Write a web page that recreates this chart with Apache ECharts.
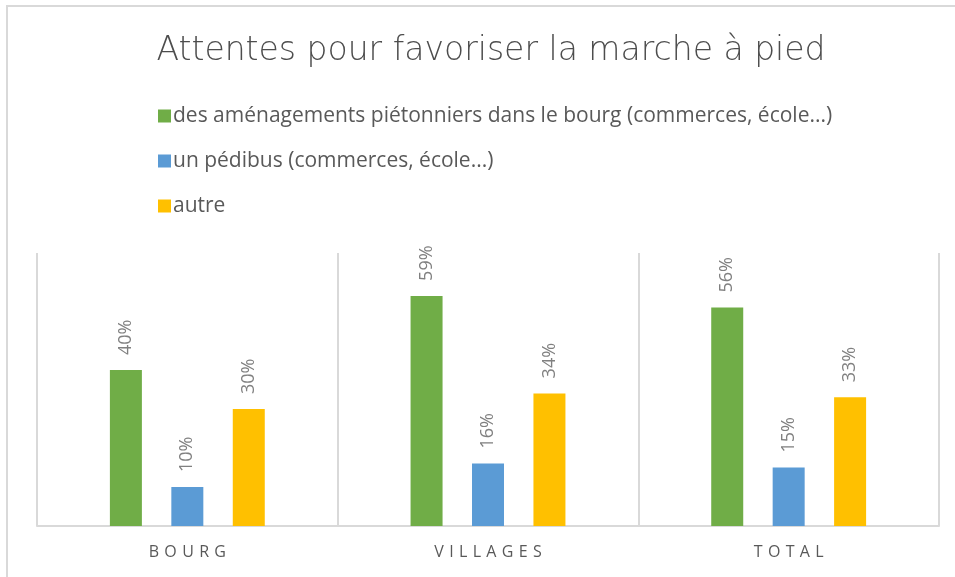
<!DOCTYPE html>
<html lang="fr">
<head>
<meta charset="utf-8">
<title>Attentes pour favoriser la marche à pied</title>
<script src="https://cdn.jsdelivr.net/npm/echarts@6/dist/echarts.min.js"></script>
<style>
    html, body { margin: 0; padding: 0; background: #fff; }
    #bar_walk { width: 955px; height: 577px; }
</style>
</head>
<body>
<div id="bar_walk"></div>
<script>

// Data
// ------------------------------

var categories = ['BOURG', 'VILLAGES', 'TOTAL'];
var seriesNames = [
    'des aménagements piétonniers dans le bourg (commerces, école...)',
    'un pédibus (commerces, école...)',
    'autre'
];
var amenagements = [40, 59, 56];
var pedibus = [10, 16, 15];
var autre = [30, 34, 33];
var seriesColors = ['#70ad47', '#5b9bd5', '#ffc000'];


// Setup module
// ------------------------------

var EchartsWalkBars = function() {

    var _walkBarsExample = function() {
        if (typeof echarts == 'undefined') {
            console.warn('Warning - echarts.min.js is not loaded.');
            return;
        }

        var bar_walk_element = document.getElementById('bar_walk');
        if (!bar_walk_element) return;

        var bar_walk = echarts.init(bar_walk_element);

        // Same look for the three series
        var makeSeries = function(name, values, color) {
            return {
                name: name,
                type: 'bar',
                data: values,
                barWidth: 32,
                barGap: '92%',
                itemStyle: {
                    color: color
                },
                label: {
                    show: true,
                    position: 'top',
                    distance: 15,
                    rotate: 90,
                    align: 'left',
                    verticalAlign: 'middle',
                    fontFamily: 'Open Sans, sans-serif',
                    fontSize: 18,
                    color: '#808080',
                    formatter: '{c}%'
                }
            };
        };

        bar_walk.setOption({

            animation: false,

            textStyle: {
                fontFamily: 'Open Sans, sans-serif'
            },

            // Chart frame
            graphic: [{
                type: 'rect',
                shape: { x: 7, y: 6, width: 1000, height: 700 },
                style: { fill: 'none', stroke: '#d9d9d9', lineWidth: 2 },
                silent: true
            }],

            title: {
                text: 'Attentes pour favoriser la marche à pied',
                left: 486,
                textAlign: 'center',
                top: 30,
                textStyle: {
                    fontFamily: 'DejaVu Sans, sans-serif',
                    fontWeight: 200,
                    fontSize: 33,
                    color: '#4d4d4d'
                }
            },

            legend: {
                orient: 'vertical',
                left: 153,
                top: 99,
                itemWidth: 13,
                itemHeight: 13,
                itemGap: 21,
                icon: 'rect',
                data: seriesNames,
                textStyle: {
                    fontSize: 21,
                    lineHeight: 24,
                    color: '#595959',
                    padding: [0, 0, 0, -3]
                }
            },

            grid: {
                left: 37,
                right: 16,
                top: 253,
                bottom: 51
            },

            xAxis: [{
                type: 'category',
                data: categories,
                axisTick: { show: false },
                axisLine: {
                    lineStyle: { color: '#d9d9d9', width: 2 }
                },
                splitLine: {
                    show: true,
                    lineStyle: { color: '#d9d9d9', width: 2 }
                },
                axisLabel: {
                    margin: 18,
                    fontSize: 16,
                    color: '#595959',
                    formatter: function(value) {
                        return value.split('').join('\u2004');
                    }
                }
            }],

            yAxis: [{
                type: 'value',
                min: 0,
                max: 70,
                interval: 10,
                show: false,
                splitLine: { show: false }
            }],

            series: [
                makeSeries(seriesNames[0], amenagements, seriesColors[0]),
                makeSeries(seriesNames[1], pedibus, seriesColors[1]),
                makeSeries(seriesNames[2], autre, seriesColors[2])
            ]
        });

        window.addEventListener('resize', function() {
            bar_walk.resize();
        });
    };

    return {
        init: function() {
            _walkBarsExample();
        }
    }
}();


// Initialize module
// ------------------------------

document.addEventListener('DOMContentLoaded', function() {
    EchartsWalkBars.init();
});
</script>
</body>
</html>
